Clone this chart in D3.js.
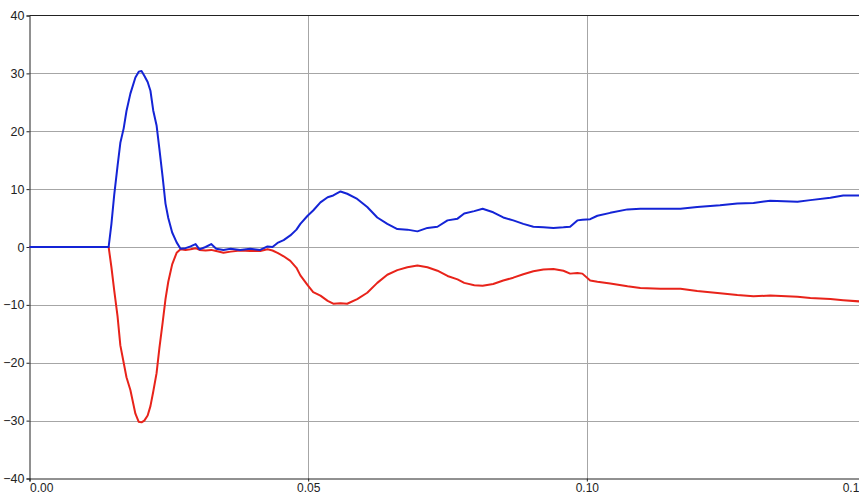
<!DOCTYPE html>
<html>
<head>
<meta charset="utf-8">
<script src="https://cdn.jsdelivr.net/npm/d3@7/dist/d3.min.js"></script>
<style>
  html, body { margin: 0; padding: 0; background: #fff; }
  svg { display: block; overflow: hidden; }
</style>
</head>
<body>
<svg id="chart" width="859" height="494"></svg>
<script>
// ---- data ----
const time = [0.0000, 0.0142, 0.0147, 0.0152, 0.0158, 0.0163, 0.0169, 0.0174, 0.0181, 0.0190,
  0.0196, 0.0201, 0.0206, 0.0212, 0.0217, 0.0222, 0.0228, 0.0233, 0.0239, 0.0244,
  0.0249, 0.0256, 0.0264, 0.0271, 0.0280, 0.0289, 0.0298, 0.0305, 0.0316, 0.0326,
  0.0335, 0.0348, 0.0361, 0.0378, 0.0396, 0.0414, 0.0427, 0.0436, 0.0445, 0.0456,
  0.0468, 0.0479, 0.0486, 0.0499, 0.0509, 0.0522, 0.0535, 0.0545, 0.0558, 0.0570,
  0.0588, 0.0606, 0.0624, 0.0642, 0.0660, 0.0678, 0.0696, 0.0714, 0.0732, 0.0750,
  0.0768, 0.0780, 0.0798, 0.0813, 0.0832, 0.0850, 0.0868, 0.0886, 0.0904, 0.0922,
  0.0940, 0.0958, 0.0970, 0.0983, 0.0992, 0.1006, 0.1019, 0.1042, 0.1073, 0.1096,
  0.1132, 0.1168, 0.1198, 0.1239, 0.1270, 0.1299, 0.1329, 0.1378, 0.1401, 0.1437,
  0.1460, 0.1489, 0.1500];
const blueSeries = [0, 0, 4, 9, 14, 18, 20.5, 23.5, 26.5, 29.3,
  30.3, 30.4, 29.6, 28.5, 27, 23.6, 21, 17, 12, 7.5,
  5, 2.5, 0.8, -0.3, -0.2, 0.1, 0.5, -0.4, 0, 0.5,
  -0.3, -0.5, -0.3, -0.5, -0.3, -0.5, 0.1, 0, 0.7, 1.2,
  2.0, 3.0, 4.0, 5.4, 6.3, 7.7, 8.6, 8.9, 9.6, 9.2,
  8.3, 6.9, 5.1, 4.0, 3.1, 3.0, 2.7, 3.3, 3.5, 4.6,
  4.9, 5.8, 6.2, 6.6, 6.0, 5.1, 4.6, 4.0, 3.5, 3.4,
  3.3, 3.4, 3.5, 4.6, 4.7, 4.8, 5.4, 5.9, 6.5, 6.6,
  6.6, 6.6, 6.9, 7.2, 7.5, 7.6, 8.0, 7.8, 8.1, 8.5,
  8.9, 8.9, 8.9];
const redSeries = [0, 0, -3.5, -7.5, -12, -17, -20, -22.5, -24.7, -28.8,
  -30.2, -30.3, -30, -29.1, -27.5, -25, -21.8, -17.5, -13, -9,
  -6, -3, -1, -0.4, -0.5, -0.4, -0.2, -0.5, -0.6, -0.5,
  -0.7, -1.0, -0.8, -0.6, -0.7, -0.7, -0.4, -0.6, -1.0, -1.6,
  -2.4, -3.6, -4.9, -6.6, -7.8, -8.4, -9.3, -9.8, -9.7, -9.8,
  -9.0, -7.9, -6.2, -4.8, -4.0, -3.5, -3.2, -3.5, -4.1, -5.0,
  -5.6, -6.2, -6.6, -6.7, -6.4, -5.8, -5.3, -4.7, -4.2, -3.9,
  -3.8, -4.1, -4.6, -4.5, -4.6, -5.8, -6.0, -6.3, -6.8, -7.1,
  -7.2, -7.2, -7.6, -8.0, -8.3, -8.5, -8.4, -8.6, -8.8, -9.0,
  -9.2, -9.4, -9.4];
const xTicks = [0, 0.05, 0.10, 0.15];
const xTickLabels = ["0.00", "0.05", "0.10", "0.15"];
const yTicks = [-40, -30, -20, -10, 0, 10, 20, 30, 40];

(function () {
// ---- layout ----
const pl = 29.5, pt = 15.5, pr = 865.5, pb = 478.5;
const svg = d3.select("#chart");
const x = d3.scaleLinear().domain([0, 0.15]).range([pl, pr]);
const y = d3.scaleLinear().domain([-40, 40]).range([pb, pt]);
const font = "Liberation Sans, Arial, sans-serif";

// grid
svg.append("g").selectAll("line").data(yTicks.filter(d => d > -40 && d < 40)).join("line")
  .attr("x1", pl).attr("x2", pr)
  .attr("y1", d => Math.round(y(d)) + 0.5).attr("y2", d => Math.round(y(d)) + 0.5)
  .attr("stroke", "#a6a6a6").attr("stroke-width", 1);
svg.append("g").selectAll("line").data(xTicks.filter(d => d > 0 && d < 0.15)).join("line")
  .attr("x1", d => Math.round(x(d)) + 0.5).attr("x2", d => Math.round(x(d)) + 0.5)
  .attr("y1", pt).attr("y2", pb)
  .attr("stroke", "#a6a6a6").attr("stroke-width", 1);

// top border
svg.append("line").attr("x1", pl).attr("x2", pr).attr("y1", pt).attr("y2", pt)
  .attr("stroke", "#222").attr("stroke-width", 1);

// y axis
const yAxis = d3.axisLeft(y).tickValues(yTicks).tickSize(3).tickPadding(2).tickFormat(d3.format("d"));
const gy = svg.append("g").attr("transform", `translate(${pl},0)`).call(yAxis);
gy.select(".domain").attr("stroke", "#222");
gy.selectAll(".tick line").attr("stroke", "#222");
gy.selectAll("text").attr("font-family", font).attr("font-size", 12.5).attr("fill", "#222");

// x axis
const xAxis = d3.axisBottom(x).tickValues(xTicks).tickSize(3).tickPadding(2)
  .tickFormat((d, i) => xTickLabels[i]);
const gx = svg.append("g").attr("transform", `translate(0,${pb})`).call(xAxis);
gx.select(".domain").attr("stroke", "#222");
gx.selectAll(".tick line").attr("stroke", "#222");
gx.selectAll("text").attr("font-family", font).attr("font-size", 12).attr("fill", "#222")
  .attr("text-anchor", (d, i) => i === 0 ? "start" : (i === xTicks.length - 1 ? "end" : "middle"));

// lines
const pts = (vals) => time.map((t, i) => [t, vals[i]]);
const line = d3.line().x(d => x(d[0])).y(d => y(d[1]));
svg.append("path").datum(pts(redSeries)).attr("d", line)
  .attr("fill", "none").attr("stroke", "#e8231a").attr("stroke-width", 2).attr("stroke-linejoin", "round");
svg.append("path").datum(pts(blueSeries)).attr("d", line)
  .attr("fill", "none").attr("stroke", "#1424d6").attr("stroke-width", 2).attr("stroke-linejoin", "round");
})();
</script>
</body>
</html>
